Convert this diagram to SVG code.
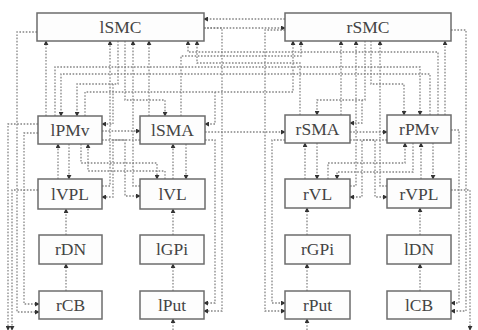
<svg xmlns="http://www.w3.org/2000/svg" width="478" height="330" viewBox="0 0 478 330">
<defs>
<marker id="a" viewBox="0 0 6 6" refX="5" refY="3" markerWidth="5" markerHeight="5" orient="auto" markerUnits="userSpaceOnUse">
<path d="M0,0 L6,3 L0,6 Z" fill="#333"/>
</marker>
<style>
.n rect{fill:#fdfdfd;stroke:#6c6c6c;stroke-width:1.5}
.n text{font-family:"Liberation Serif",serif;font-size:17.5px;fill:#444;text-anchor:middle}
#c path{fill:none;stroke:#858585;stroke-width:1.3;stroke-dasharray:1.6 1.6;marker-end:url(#a)}
</style>
</defs>
<rect width="478" height="330" fill="#fff"/>
<g id="c">
<path d="M204,28 H285"/>
<path d="M285,19 H204"/>
<path d="M204,28 H222 V311 H204"/>
<path d="M285,30 H265 V311 H285"/>
<path d="M37,32 H17 V312 H39"/>
<path d="M451,30 H466 V311 H451"/>
<path d="M38,133 H24 V304 H39"/>
<path d="M451,130 H459 V303 H451"/>
<path d="M205,140 H215 V303 H204"/>
<path d="M285,140 H272 V303 H285"/>
<path d="M38,124 H8 V330"/>
<path d="M38,190 H12 V330"/>
<path d="M451,190 H470 V330"/>
<path d="M46,116 V41"/>
<path d="M85,116 V92 H293 V41"/>
<path d="M149,116 V41"/>
<path d="M181,116 V56 H301 V41"/>
<path d="M341,115 V41"/>
<path d="M300,115 V63 H197 V41"/>
<path d="M445,115 V41"/>
<path d="M438,115 V52 H188 V41"/>
<path d="M102,186 H110 V41"/>
<path d="M140,186 H133 V41"/>
<path d="M350,186 H356 V41"/>
<path d="M387,186 H380 V41"/>
<path d="M118,41 V84 H77 V116"/>
<path d="M125,41 V100 H165 V116"/>
<path d="M365,41 V100 H317 V115"/>
<path d="M371,41 V84 H404 V115"/>
<path d="M430,115 V74 H61 V116"/>
<path d="M55,116 V67 H420 V115"/>
<path d="M102,131 H140"/>
<path d="M205,132 H285"/>
<path d="M350,132 H387"/>
<path d="M113,84 V124 H102"/>
<path d="M215,92 V124 H205"/>
<path d="M362,100 V123 H350"/>
<path d="M69,144 V179"/>
<path d="M58,179 V144"/>
<path d="M81,144 V163 H157 V179"/>
<path d="M165,179 V171 H88 V144"/>
<path d="M186,144 V179"/>
<path d="M173,179 V144"/>
<path d="M140,140 H113 V197 H102"/>
<path d="M102,140 H125 V196 H140"/>
<path d="M317,143 V179"/>
<path d="M305,179 V143"/>
<path d="M413,143 V172 H337 V179"/>
<path d="M328,179 V163 H405 V143"/>
<path d="M433,143 V179"/>
<path d="M421,179 V143"/>
<path d="M350,140 H375 V197 H387"/>
<path d="M387,140 H362 V197 H350"/>
<path d="M66,235 V209"/>
<path d="M66,291 V264"/>
<path d="M173,235 V209"/>
<path d="M173,291 V264"/>
<path d="M173,330 V319"/>
<path d="M307,235 V208"/>
<path d="M307,291 V264"/>
<path d="M307,330 V319"/>
<path d="M420,235 V208"/>
<path d="M420,291 V264"/>
</g>
<g id="lSMC" class="n"><rect x="37" y="13" width="167" height="28"/><text x="120.5" y="33">lSMC</text></g>
<g id="rSMC" class="n"><rect x="285" y="13" width="166" height="28"/><text x="368" y="33">rSMC</text></g>
<g id="lPMv" class="n"><rect x="38" y="116" width="64" height="28"/><text x="70" y="136">lPMv</text></g>
<g id="lSMA" class="n"><rect x="140" y="116" width="65" height="28"/><text x="172.5" y="136">lSMA</text></g>
<g id="rSMA" class="n"><rect x="285" y="115" width="65" height="28"/><text x="317.5" y="135">rSMA</text></g>
<g id="rPMv" class="n"><rect x="387" y="115" width="64" height="28"/><text x="419" y="135">rPMv</text></g>
<g id="lVPL" class="n"><rect x="38" y="179" width="64" height="30"/><text x="70" y="200">lVPL</text></g>
<g id="lVL" class="n"><rect x="140" y="179" width="65" height="30"/><text x="172.5" y="200">lVL</text></g>
<g id="rVL" class="n"><rect x="285" y="179" width="65" height="29"/><text x="317.5" y="200">rVL</text></g>
<g id="rVPL" class="n"><rect x="387" y="179" width="64" height="29"/><text x="419" y="200">rVPL</text></g>
<g id="rDN" class="n"><rect x="39" y="235" width="63" height="29"/><text x="70.5" y="255">rDN</text></g>
<g id="lGPi" class="n"><rect x="140" y="235" width="64" height="29"/><text x="172" y="255">lGPi</text></g>
<g id="rGPi" class="n"><rect x="285" y="235" width="65" height="29"/><text x="317.5" y="255">rGPi</text></g>
<g id="lDN" class="n"><rect x="387" y="235" width="64" height="29"/><text x="419" y="255">lDN</text></g>
<g id="rCB" class="n"><rect x="39" y="291" width="63" height="28"/><text x="70.5" y="311">rCB</text></g>
<g id="lPut" class="n"><rect x="140" y="291" width="64" height="28"/><text x="172" y="311">lPut</text></g>
<g id="rPut" class="n"><rect x="285" y="291" width="65" height="28"/><text x="317.5" y="311">rPut</text></g>
<g id="lCB" class="n"><rect x="387" y="291" width="64" height="28"/><text x="419" y="311">lCB</text></g>
</svg>
